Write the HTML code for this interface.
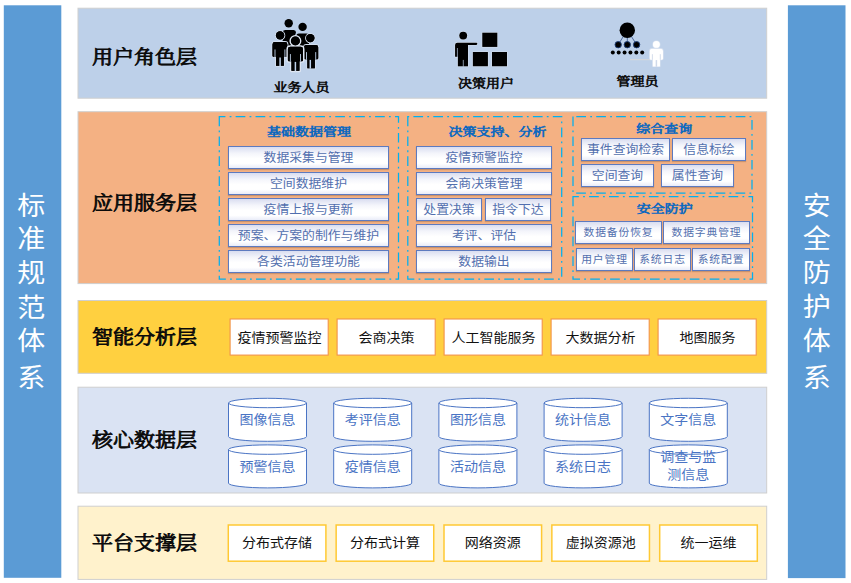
<!DOCTYPE html>
<html lang="zh-CN"><head><meta charset="utf-8"><title>系统总体架构</title>
<style>
html,body{margin:0;padding:0;background:#fff;}
body{width:851px;height:583px;overflow:hidden;position:relative;font-family:"Liberation Sans","Noto Sans CJK SC",sans-serif;}
.bar{position:absolute;color:#fff;font-family:"Liberation Sans","Noto Sans CJK SC",sans-serif;font-size:28px;line-height:33.5px;text-align:center;box-sizing:border-box;}
.bar span{display:block;position:relative;transform:scaleY(.92);}
.lbl{position:absolute;transform:scaleY(.91);transform-origin:center;font-family:"Liberation Serif","Noto Serif CJK SC",serif;font-weight:400;-webkit-text-stroke:0.9px #0a0a0a;font-size:21px;color:#0a0a0a;white-space:nowrap;line-height:24px;height:24px;}
.role{position:absolute;transform:scaleY(.86);transform-origin:center;font-family:"Liberation Serif","Noto Serif CJK SC",serif;font-weight:400;-webkit-text-stroke:0.7px #0a0a0a;font-size:14px;color:#0a0a0a;white-space:nowrap;line-height:16px;height:16px;}
.hd{position:absolute;transform:scaleY(.84);transform-origin:center;font-family:"Liberation Serif","Noto Serif CJK SC",serif;font-weight:400;-webkit-text-stroke:0.75px #0b68c0;font-size:14px;color:#0b68c0;white-space:nowrap;line-height:16px;height:16px;}
.it{position:absolute;box-sizing:border-box;border:1px solid #5d7abf;background:linear-gradient(to bottom,#d9ddf0 0%,#f4f5fb 30%,#ffffff 55%,#ffffff 78%,#e9ecf8 100%);color:#526fae;font-size:12.85px;padding-bottom:2px;display:flex;align-items:center;justify-content:center;white-space:nowrap;box-shadow:0 1px 1px rgba(120,90,70,.35);}
.it span{display:inline-block;transform:scaleY(.93);}
.it.s{font-size:10.8px;letter-spacing:.85px;padding-bottom:4px;}
.ob{position:absolute;box-sizing:border-box;transform:scaleY(.92);padding-bottom:2px;color:#111;font-size:14px;display:flex;align-items:center;justify-content:center;white-space:nowrap;}
.yb{position:absolute;box-sizing:border-box;transform:scaleY(.92);color:#111;font-size:14px;padding-bottom:3px;display:flex;align-items:center;justify-content:center;white-space:nowrap;}
.ct{position:absolute;transform:scaleY(.93);color:#4a74c4;font-size:14px;text-align:center;white-space:nowrap;line-height:17.5px;}
svg{position:absolute;left:0;top:0;overflow:visible;}
</style></head><body>

<svg width="851" height="583" viewBox="0 0 851 583">
<rect x="3.8" y="5.3" width="57.5" height="572.5" fill="#5b9bd5"/>
<rect x="787.9" y="5.3" width="57.6" height="572.8" fill="#5b9bd5"/>
<rect x="78" y="8.2" width="688.7" height="90" fill="#bdd0e9" stroke="#cfcfcf" stroke-width="1"/>
<rect x="78" y="111.7" width="688.7" height="171.9" fill="#f4b183" stroke="#cfcfcf" stroke-width="1"/>
<rect x="78" y="300.5" width="688.7" height="72.8" fill="#ffd040" stroke="#cfcfcf" stroke-width="1"/>
<rect x="78" y="387.2" width="688.7" height="105.8" fill="#dae3f3" stroke="#cfcfcf" stroke-width="1"/>
<rect x="78" y="506.2" width="688.7" height="73.2" fill="#fff2cc" stroke="#cfcfcf" stroke-width="1"/>
<rect x="230.1" y="319" width="98.1" height="36.1" fill="#fff" stroke="#f2924a" stroke-width="1.1"/>
<rect x="337.1" y="319" width="98.1" height="36.1" fill="#fff" stroke="#f2924a" stroke-width="1.1"/>
<rect x="444.1" y="319" width="98.1" height="36.1" fill="#fff" stroke="#f2924a" stroke-width="1.1"/>
<rect x="551.1" y="319" width="98.1" height="36.1" fill="#fff" stroke="#f2924a" stroke-width="1.1"/>
<rect x="658.1" y="319" width="98.1" height="36.1" fill="#fff" stroke="#f2924a" stroke-width="1.1"/>
<rect x="228.3" y="525" width="97.6" height="36.2" fill="#fff" stroke="#ffc933" stroke-width="1.5"/>
<rect x="336.15" y="525" width="97.6" height="36.2" fill="#fff" stroke="#ffc933" stroke-width="1.5"/>
<rect x="444" y="525" width="97.6" height="36.2" fill="#fff" stroke="#ffc933" stroke-width="1.5"/>
<rect x="551.85" y="525" width="97.6" height="36.2" fill="#fff" stroke="#ffc933" stroke-width="1.5"/>
<rect x="659.7" y="525" width="97.6" height="36.2" fill="#fff" stroke="#ffc933" stroke-width="1.5"/>
</svg>
<div class="bar" style="left:3.5px;top:5px;width:57.5px;height:573px;padding-top:184.55px;"><span style="top:0px;left:-0.9px">标</span><span style="top:0px;left:-0.9px">准</span><span style="top:0px;left:-0.9px">规</span><span style="top:1.5px;left:-0.9px">范</span><span style="top:1px;left:-0.9px">体</span><span style="top:4.7px;left:-0.9px">系</span></div>
<div class="bar" style="left:788px;top:5px;width:57.5px;height:573px;padding-top:184.55px;"><span style="top:0px;left:0px">安</span><span style="top:0px;left:0px">全</span><span style="top:0px;left:0px">防</span><span style="top:1px;left:0px">护</span><span style="top:1.4px;left:0px">体</span><span style="top:4.7px;left:0px">系</span></div>
<div class="lbl" style="left:92px;top:45.7px;">用户角色层</div>
<div class="lbl" style="left:92px;top:191.7px;">应用服务层</div>
<div class="lbl" style="left:92px;top:325.7px;">智能分析层</div>
<div class="lbl" style="left:92px;top:428.7px;">核心数据层</div>
<div class="lbl" style="left:92px;top:531.7px;">平台支撑层</div>
<div class="role" style="left:273.5px;top:80.8px;">业务人员</div>
<div class="role" style="left:458px;top:77px;">决策用户</div>
<div class="role" style="left:616.5px;top:74.8px;">管理员</div>
<div class="hd" style="left:267px;top:124.5px;">基础数据管理</div>
<div class="hd" style="left:448.5px;top:124.5px;">决策支持、分析</div>
<div class="hd" style="left:636.2px;top:121.9px;">综合查询</div>
<div class="hd" style="left:636.8px;top:202px;">安全防护</div>
<div class="it" style="left:228px;top:146px;width:161px;height:23px;"><span>数据采集与管理</span></div>
<div class="it" style="left:228px;top:172px;width:161px;height:23px;"><span>空间数据维护</span></div>
<div class="it" style="left:228px;top:198px;width:161px;height:23px;"><span>疫情上报与更新</span></div>
<div class="it" style="left:228px;top:224px;width:161px;height:23px;"><span>预案、方案的制作与维护</span></div>
<div class="it" style="left:228px;top:250px;width:161px;height:23px;"><span>各类活动管理功能</span></div>
<div class="it" style="left:416px;top:146px;width:136px;height:23px;"><span>疫情预警监控</span></div>
<div class="it" style="left:416px;top:172px;width:136px;height:23px;"><span>会商决策管理</span></div>
<div class="it" style="left:416px;top:198px;width:66px;height:23px;"><span>处置决策</span></div>
<div class="it" style="left:485px;top:198px;width:66px;height:23px;"><span>指令下达</span></div>
<div class="it" style="left:416px;top:224px;width:136px;height:23px;"><span>考评、评估</span></div>
<div class="it" style="left:416px;top:250px;width:136px;height:23px;"><span>数据输出</span></div>
<div class="it" style="left:581px;top:138px;width:89px;height:23px;"><span>事件查询检索</span></div>
<div class="it" style="left:672px;top:138px;width:74px;height:23px;"><span>信息标绘</span></div>
<div class="it" style="left:581px;top:164px;width:73px;height:23px;"><span>空间查询</span></div>
<div class="it" style="left:661px;top:164px;width:73px;height:23px;"><span>属性查询</span></div>
<div class="it s" style="left:575px;top:221px;width:87px;height:23px;"><span>数据备份恢复</span></div>
<div class="it s" style="left:663px;top:221px;width:87px;height:23px;"><span>数据字典管理</span></div>
<div class="it s" style="left:576px;top:248px;width:57px;height:23px;"><span>用户管理</span></div>
<div class="it s" style="left:634px;top:248px;width:57px;height:23px;"><span>系统日志</span></div>
<div class="it s" style="left:692px;top:248px;width:58px;height:23px;"><span>系统配置</span></div>
<div class="ob" style="left:229.9px;top:318.8px;width:99.2px;height:36.8px;">疫情预警监控</div>
<div class="ob" style="left:336.9px;top:318.8px;width:99.2px;height:36.8px;">会商决策</div>
<div class="ob" style="left:443.9px;top:318.8px;width:99.2px;height:36.8px;">人工智能服务</div>
<div class="ob" style="left:550.9px;top:318.8px;width:99.2px;height:36.8px;">大数据分析</div>
<div class="ob" style="left:657.9px;top:318.8px;width:99.2px;height:36.8px;">地图服务</div>
<div class="yb" style="left:227.7px;top:524.2px;width:98.8px;height:37px;">分布式存储</div>
<div class="yb" style="left:335.55px;top:524.2px;width:98.8px;height:37px;">分布式计算</div>
<div class="yb" style="left:443.4px;top:524.2px;width:98.8px;height:37px;">网络资源</div>
<div class="yb" style="left:551.25px;top:524.2px;width:98.8px;height:37px;">虚拟资源池</div>
<div class="yb" style="left:659.1px;top:524.2px;width:98.8px;height:37px;">统一运维</div>
<svg width="851" height="583" viewBox="0 0 851 583">
<path d="M219.3 116.5 V279 H398.5 V116.5 Z" fill="none" stroke="#00b0f0" stroke-width="1.25" stroke-dasharray="9.7 4.21 1.8 4.21"/>
<path d="M407.8 116.5 V279 H561.7 V116.5 Z" fill="none" stroke="#00b0f0" stroke-width="1.25" stroke-dasharray="9.7 4.21 1.8 4.21"/>
<path d="M573 116.5 V193 H752 V116.5 Z" fill="none" stroke="#00b0f0" stroke-width="1.25" stroke-dasharray="9.7 4.21 1.8 4.21"/>
<path d="M573 196.6 V279 H752.5 V196.6 Z" fill="none" stroke="#00b0f0" stroke-width="1.25" stroke-dasharray="9.7 4.21 1.8 4.21"/>
<path d="M228.5 403 A39 4.7 0 0 1 306.5 403 V436.6 A39 4.7 0 0 1 228.5 436.6 Z" fill="#fff" stroke="#4a74c4" stroke-width="1"/>
<path d="M228.5 403 A39 4.7 0 0 0 306.5 403" fill="none" stroke="#4a74c4" stroke-width="1"/>
<path d="M333.7 403 A39 4.7 0 0 1 411.7 403 V436.6 A39 4.7 0 0 1 333.7 436.6 Z" fill="#fff" stroke="#4a74c4" stroke-width="1"/>
<path d="M333.7 403 A39 4.7 0 0 0 411.7 403" fill="none" stroke="#4a74c4" stroke-width="1"/>
<path d="M438.9 403 A39 4.7 0 0 1 516.9 403 V436.6 A39 4.7 0 0 1 438.9 436.6 Z" fill="#fff" stroke="#4a74c4" stroke-width="1"/>
<path d="M438.9 403 A39 4.7 0 0 0 516.9 403" fill="none" stroke="#4a74c4" stroke-width="1"/>
<path d="M544.1 403 A39 4.7 0 0 1 622.1 403 V436.6 A39 4.7 0 0 1 544.1 436.6 Z" fill="#fff" stroke="#4a74c4" stroke-width="1"/>
<path d="M544.1 403 A39 4.7 0 0 0 622.1 403" fill="none" stroke="#4a74c4" stroke-width="1"/>
<path d="M649.3 403 A39 4.7 0 0 1 727.3 403 V436.6 A39 4.7 0 0 1 649.3 436.6 Z" fill="#fff" stroke="#4a74c4" stroke-width="1"/>
<path d="M649.3 403 A39 4.7 0 0 0 727.3 403" fill="none" stroke="#4a74c4" stroke-width="1"/>
<path d="M228.5 449.6 A39 4.7 0 0 1 306.5 449.6 V483.2 A39 4.7 0 0 1 228.5 483.2 Z" fill="#fff" stroke="#4a74c4" stroke-width="1"/>
<path d="M228.5 449.6 A39 4.7 0 0 0 306.5 449.6" fill="none" stroke="#4a74c4" stroke-width="1"/>
<path d="M333.7 449.6 A39 4.7 0 0 1 411.7 449.6 V483.2 A39 4.7 0 0 1 333.7 483.2 Z" fill="#fff" stroke="#4a74c4" stroke-width="1"/>
<path d="M333.7 449.6 A39 4.7 0 0 0 411.7 449.6" fill="none" stroke="#4a74c4" stroke-width="1"/>
<path d="M438.9 449.6 A39 4.7 0 0 1 516.9 449.6 V483.2 A39 4.7 0 0 1 438.9 483.2 Z" fill="#fff" stroke="#4a74c4" stroke-width="1"/>
<path d="M438.9 449.6 A39 4.7 0 0 0 516.9 449.6" fill="none" stroke="#4a74c4" stroke-width="1"/>
<path d="M544.1 449.6 A39 4.7 0 0 1 622.1 449.6 V483.2 A39 4.7 0 0 1 544.1 483.2 Z" fill="#fff" stroke="#4a74c4" stroke-width="1"/>
<path d="M544.1 449.6 A39 4.7 0 0 0 622.1 449.6" fill="none" stroke="#4a74c4" stroke-width="1"/>
<path d="M649.3 449.6 A39 4.7 0 0 1 727.3 449.6 V483.2 A39 4.7 0 0 1 649.3 483.2 Z" fill="#fff" stroke="#4a74c4" stroke-width="1"/>
<path d="M649.3 449.6 A39 4.7 0 0 0 727.3 449.6" fill="none" stroke="#4a74c4" stroke-width="1"/>
<circle cx="288.7" cy="23.2" r="4.2" fill="#000"/>
<path d="M282.6 32.4 Q282.6 29.9 285 29.9 H293.6 Q296 29.9 296 32.4 L291 48 H282.6 Z" fill="#000"/>
<circle cx="302.6" cy="26.9" r="4.2" fill="#000"/>
<path d="M296.4 35.8 Q296.4 33.4 298.8 33.4 H306.6 Q309 33.4 309 35.8 V50 H296.4 Z" fill="#000"/>
<g stroke="#d3deee" stroke-width="2" stroke-linejoin="round" paint-order="stroke" fill="#000">
<circle cx="280.1" cy="35.4" r="4.2"/>
<path d="M272.5 44.5 Q272.5 42.1 274.9 42.1 H285 Q287.4 42.1 287.4 44.5 V55.8 Q287.4 56.8 286.4 56.8 H283.898 V65.8 H276.002 V56.8 H273.5 Q272.5 56.8 272.5 55.8 Z"/>
</g>
<circle cx="280.1" cy="35.4" r="4.2" fill="#000"/>
<path d="M272.5 44.5 Q272.5 42.1 274.9 42.1 H285 Q287.4 42.1 287.4 44.5 V55.8 Q287.4 56.8 286.4 56.8 H283.898 V65.8 H276.002 V56.8 H273.5 Q272.5 56.8 272.5 55.8 Z" fill="#000"/>
<path d="M275 49.45 V57.1 M284.9 49.45 V57.1" stroke="#bdd0e9" stroke-width="0.9" fill="none"/>
<path d="M280.1 57.4 V66.3" stroke="#bdd0e9" stroke-width="1.5" fill="none"/>
<g stroke="#d3deee" stroke-width="2" stroke-linejoin="round" paint-order="stroke" fill="#000">
<circle cx="310.3" cy="38.1" r="4.2"/>
<path d="M304 47.3 Q304 44.9 306.4 44.9 H315.8 Q318.2 44.9 318.2 47.3 V58.3 Q318.2 59.3 317.2 59.3 H314.863 V68.2 H307.337 V59.3 H305 Q304 59.3 304 58.3 Z"/>
</g>
<circle cx="310.3" cy="38.1" r="4.2" fill="#000"/>
<path d="M304 47.3 Q304 44.9 306.4 44.9 H315.8 Q318.2 44.9 318.2 47.3 V58.3 Q318.2 59.3 317.2 59.3 H314.863 V68.2 H307.337 V59.3 H305 Q304 59.3 304 58.3 Z" fill="#000"/>
<path d="M306.5 52.1 V59.6 M315.7 52.1 V59.6" stroke="#bdd0e9" stroke-width="0.9" fill="none"/>
<path d="M310.3 59.9 V68.7" stroke="#bdd0e9" stroke-width="1.5" fill="none"/>
<g stroke="#dfe7f3" stroke-width="3" stroke-linejoin="round" paint-order="stroke" fill="#000">
<circle cx="295.4" cy="40.9" r="4.5"/>
<path d="M287.9 49.2 Q287.9 46.8 290.3 46.8 H300.6 Q303 46.8 303 49.2 V60.3 Q303 61.3 302 61.3 H299.452 V70.7 H291.448 V61.3 H288.9 Q287.9 61.3 287.9 60.3 Z"/>
</g>
<circle cx="295.4" cy="40.9" r="4.5" fill="#000"/>
<path d="M287.9 49.2 Q287.9 46.8 290.3 46.8 H300.6 Q303 46.8 303 49.2 V60.3 Q303 61.3 302 61.3 H299.452 V70.7 H291.448 V61.3 H288.9 Q287.9 61.3 287.9 60.3 Z" fill="#000"/>
<path d="M290.4 54.05 V61.6 M300.5 54.05 V61.6" stroke="#bdd0e9" stroke-width="0.9" fill="none"/>
<path d="M295.4 61.9 V71.2" stroke="#bdd0e9" stroke-width="1.5" fill="none"/>
<g stroke="#d3deee" stroke-width="1.2" stroke-linejoin="round">
<circle cx="463.2" cy="35.6" r="3.9" fill="#000"/>
<path d="M455.1 45 Q455.1 42.7 457.4 42.7 H476.2 Q477.3 42.7 477.3 43.8 Q477.3 44.9 476.2 44.9 H468 V66.2 H457.9 V56.8 H455.1 Z" fill="#000"/>
<rect x="482.3" y="32.7" width="15" height="14.2" fill="#000"/>
<rect x="472.9" y="52" width="15" height="14.2" fill="#000"/>
<rect x="492" y="52" width="15" height="14.2" fill="#000"/>
</g>
<circle cx="463.2" cy="35.6" r="3.9" fill="#000"/>
<path d="M455.1 45 Q455.1 42.7 457.4 42.7 H476.2 Q477.3 42.7 477.3 43.8 Q477.3 44.9 476.2 44.9 H468 V66.2 H457.9 V56.8 H455.1 Z" fill="#000"/>
<rect x="482.3" y="32.7" width="15" height="14.2" fill="#000"/>
<rect x="472.9" y="52" width="15" height="14.2" fill="#000"/>
<rect x="492" y="52" width="15" height="14.2" fill="#000"/>
<path d="M457.4 48 V57 M463.3 59.9 V66.8" stroke="#bdd0e9" stroke-width="0.7" fill="none"/>
<g stroke="#1f3f7a" stroke-width="0.7"><line x1="627.3" y1="30" x2="618.2" y2="44.7"/><line x1="627.3" y1="30" x2="627.3" y2="44.7"/><line x1="627.3" y1="30" x2="636.6" y2="44.7"/></g>
<circle cx="627.3" cy="30.2" r="7.7" fill="#000"/>
<circle cx="618.2" cy="44.7" r="3.2" fill="#000" stroke="#1f3f7a" stroke-width="0.9"/>
<circle cx="627.3" cy="44.7" r="3.2" fill="#000" stroke="#1f3f7a" stroke-width="0.9"/>
<circle cx="636.6" cy="44.7" r="3.2" fill="#000" stroke="#1f3f7a" stroke-width="0.9"/>
<circle cx="612.8" cy="52.4" r="2" fill="#000"/>
<circle cx="618.68" cy="52.4" r="2" fill="#000"/>
<circle cx="624.56" cy="52.4" r="2" fill="#000"/>
<circle cx="630.44" cy="52.4" r="2" fill="#000"/>
<circle cx="636.32" cy="52.4" r="2" fill="#000"/>
<circle cx="642.2" cy="52.4" r="2" fill="#000"/>
<line x1="630" y1="59.7" x2="651" y2="59.7" stroke="#d9d9d9" stroke-width="1"/>
<g stroke="#d9e2f0" stroke-width="1.6" stroke-linejoin="round" paint-order="stroke" fill="#fff">
<circle cx="656.4" cy="44.4" r="3.2"/>
<path d="M649.9 51.3 Q649.9 48.9 652.3 48.9 H660.4 Q662.8 48.9 662.8 51.3 V58.5 Q662.8 59.5 661.8 59.5 H659.768 V66.3 H652.932 V59.5 H650.9 Q649.9 59.5 649.9 58.5 Z"/>
</g>
<circle cx="656.4" cy="44.4" r="3.2" fill="#fff"/>
<path d="M649.9 51.3 Q649.9 48.9 652.3 48.9 H660.4 Q662.8 48.9 662.8 51.3 V58.5 Q662.8 59.5 661.8 59.5 H659.768 V66.3 H652.932 V59.5 H650.9 Q649.9 59.5 649.9 58.5 Z" fill="#fff"/>
<path d="M652.4 54.2 V59.8 M660.3 54.2 V59.8" stroke="#cfd9ea" stroke-width="0.9" fill="none"/>
<path d="M656.4 60.1 V66.8" stroke="#cfd9ea" stroke-width="1.5" fill="none"/>
</svg>
<div class="ct" style="left:228.5px;top:411.45px;width:78px;">图像信息</div>
<div class="ct" style="left:333.7px;top:411.45px;width:78px;">考评信息</div>
<div class="ct" style="left:438.9px;top:411.45px;width:78px;">图形信息</div>
<div class="ct" style="left:544.1px;top:411.45px;width:78px;">统计信息</div>
<div class="ct" style="left:649.3px;top:411.45px;width:78px;">文字信息</div>
<div class="ct" style="left:228.5px;top:458.05px;width:78px;">预警信息</div>
<div class="ct" style="left:333.7px;top:458.05px;width:78px;">疫情信息</div>
<div class="ct" style="left:438.9px;top:458.05px;width:78px;">活动信息</div>
<div class="ct" style="left:544.1px;top:458.05px;width:78px;">系统日志</div>
<div class="ct" style="left:649.3px;top:446.5px;width:78px;line-height:18.8px;">调查与监<br>测信息</div>
</body></html>
